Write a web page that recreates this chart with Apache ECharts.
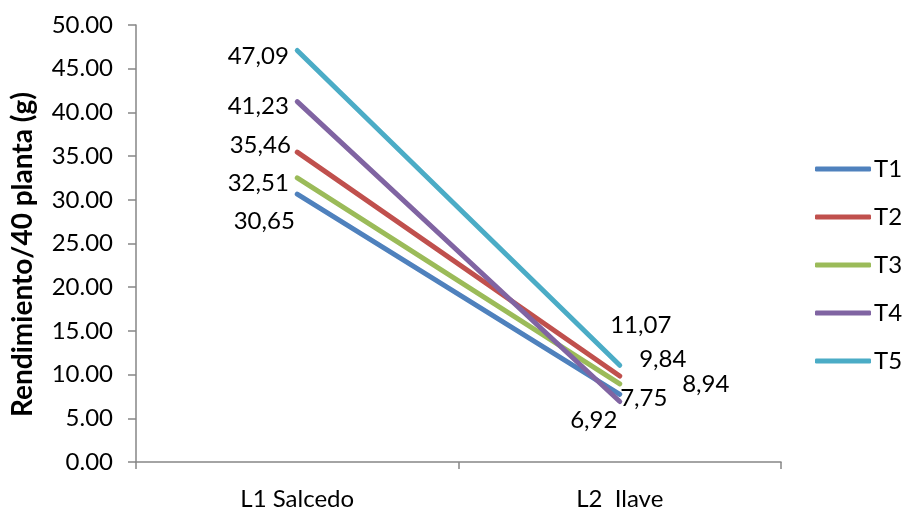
<!DOCTYPE html>
<html>
<head>
<meta charset="utf-8">
<script src="https://cdn.jsdelivr.net/npm/echarts@6/dist/echarts.min.js"></script>
<style>html,body{margin:0;padding:0;background:#fff}#c{width:907px;height:511px}</style>
</head>
<body>
<div id="c"></div>
<script>
const categories = ['L1 Salcedo', 'L2  Ilave'];
const seriesNames = ['T1', 'T2', 'T3', 'T4', 'T5'];
const T1 = [30.65, 7.75];
const T2 = [35.46, 9.84];
const T3 = [32.51, 8.94];
const T4 = [41.23, 6.92];
const T5 = [47.09, 11.07];
const yTicks = { min: 0, max: 50, interval: 5 };

const values = [T1, T2, T3, T4, T5];
const colors = ['#4F81BD', '#C0504D', '#9BBB59', '#8064A2', '#4BACC6'];
// label offsets (pixels, relative to each point) for [L1, L2]
const labelOffsets = [
  [[-33, 27], [24, 4]],
  [[-37, -7], [43, -17]],
  [[-39, 5], [86, 0]],
  [[-39, 5], [-26, 19]],
  [[-39, 6], [21, -40]]
];
const FONT = 'Lato, "Open Sans", sans-serif';
const FS = 24;
const fmtComma = v => v.toFixed(2).replace('.', ',');

const chart = echarts.init(document.getElementById('c'), null, { renderer: 'canvas' });
chart.setOption({
  animation: false,
  backgroundColor: '#fff',
  textStyle: { fontFamily: FONT },
  grid: { left: 136, right: 126, top: 25, bottom: 45 },
  legend: {
    orient: 'vertical',
    left: 815,
    top: 157,
    padding: [0, 0, 0, 0],
    itemGap: 24,
    itemWidth: 56,
    itemHeight: 5,
    icon: 'roundRect',
    data: seriesNames,
    textStyle: { fontSize: FS, color: '#000', fontFamily: FONT, padding: [0, 0, 0, -2] }
  },
  xAxis: {
    type: 'category',
    data: categories,
    boundaryGap: true,
    axisLine: { lineStyle: { color: '#868686', width: 1.5 } },
    axisTick: { show: true, length: 7, lineStyle: { color: '#868686', width: 1.5 } },
    axisLabel: { color: '#000', fontSize: FS, margin: 25, fontFamily: FONT }
  },
  yAxis: {
    type: 'value',
    min: yTicks.min, max: yTicks.max, interval: yTicks.interval,
    name: 'Rendimiento/40 planta (g)',
    nameLocation: 'middle',
    nameGap: 99,
    nameTextStyle: { fontSize: 28, fontWeight: 'bold', color: '#000', fontFamily: FONT, padding: [0, 22, 0, 0] },
    axisLine: { show: true, lineStyle: { color: '#868686', width: 1.5 } },
    axisTick: { show: true, length: 8, lineStyle: { color: '#868686', width: 1.5 } },
    splitLine: { show: false },
    axisLabel: { color: '#000', fontSize: FS, margin: 23, fontFamily: FONT, formatter: v => v.toFixed(2) }
  },
  series: values.map((arr, i) => ({
    name: seriesNames[i],
    type: 'line',
    symbol: 'circle',
    symbolSize: 1,
    color: colors[i],
    lineStyle: { width: 5, cap: 'round', color: colors[i] },
    itemStyle: { color: colors[i] },
    z: 2 + i,
    data: arr.map((v, j) => ({
      value: v,
      label: {
        show: true,
        position: 'inside',
        offset: labelOffsets[i][j],
        formatter: p => fmtComma(p.value),
        color: '#000',
        fontSize: FS,
        fontFamily: FONT
      }
    }))
  }))
});
</script>
</body>
</html>
